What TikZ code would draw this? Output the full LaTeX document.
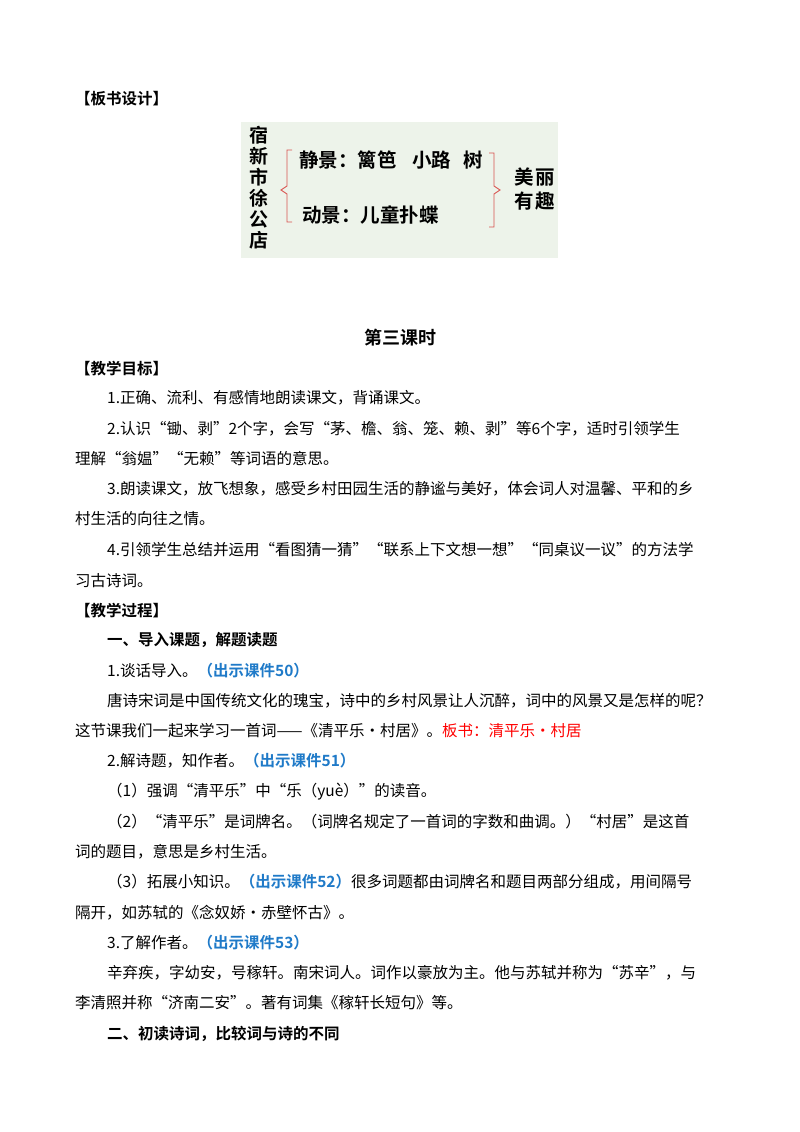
\documentclass[tikz,border=0pt]{standalone}
\usepackage{fontspec}
\setmainfont{Noto Sans CJK SC}
\newfontfamily\cjkb{Noto Sans CJK SC Bold}
\XeTeXlinebreaklocale "zh"
\XeTeXlinebreakskip=0pt plus 2pt
\definecolor{boardbg}{HTML}{EDF3EA}
\definecolor{braceRed}{HTML}{D9534F}
\definecolor{linkblue}{HTML}{1F7AC8}
\newcommand{\fullline}[2]{\makebox[#1pt][s]{#2}}
\newcommand{\kj}[1]{{\cjkb\color{linkblue}#1}}
\begin{document}
\begin{tikzpicture}[x=1pt,y=-1pt,
  body/.style={anchor=west, inner sep=0pt, font=\fontsize{15.5}{18}\selectfont},
  head/.style={body, font=\fontsize{15.5}{18}\selectfont\cjkb},
  board/.style={anchor=west, inner sep=0pt, font=\fontsize{19.5}{22}\selectfont\cjkb},
  brace/.style={braceRed, line width=0.9pt}]
  \useasboundingbox (0,0) rectangle (800,1132);

  % board design
  \node[head] (bsh) at (75,99) {【板书设计】};
  \fill[boardbg] (241,122) rectangle (558,258);
  \node[board, anchor=center, align=center, font=\fontsize{19}{21}\selectfont\cjkb] (title) at (259,188) {宿\\新\\市\\徐\\公\\店};
  \node[board] (still) at (299,160) {静景：篱笆\hspace{0.8em}小路\hspace{0.6em}树};
  \node[board] (move) at (302,215) {动景：儿童扑蝶};
  \draw[brace] (292,150) -- (287,150) -- (287,186) -- (281,190) -- (287,194) -- (287,222) -- (292,222);
  \draw[brace] (489,153) -- (494,153) -- (494,186) -- (500,190) -- (494,194) -- (494,227) -- (489,227);
  \node[board] (mei) at (514,177) {美\hspace{0.1em}丽};
  \node[board] (you) at (514,201) {有\hspace{0.1em}趣};

  % lesson three
  \node[anchor=center, inner sep=0pt, font=\fontsize{18}{20}\selectfont\cjkb] (lesson) at (400,338) {第三课时};
  \node[head] (goal) at (75,369) {【教学目标】};
  \node[body] (g1) at (107,398) {1.正确、流利、有感情地朗读课文，背诵课文。};
  \node[body] (g2) at (107,429) {\fullline{660}{2.认识“锄、剥”2个字，会写“茅、檐、翁、笼、赖、剥”等6个字，适时引领学生}};
  \node[body] (g2b) at (75,459) {理解“翁媪”“无赖”等词语的意思。};
  \node[body] (g3) at (107,489) {\fullline{663}{3.朗读课文，放飞想象，感受乡村田园生活的静谧与美好，体会词人对温馨、平和的乡}};
  \node[body] (g3b) at (75,519) {村生活的向往之情。};
  \node[body] (g4) at (107,550) {\fullline{660}{4.引领学生总结并运用“看图猜一猜”“联系上下文想一想”“同桌议一议”的方法学}};
  \node[body] (g4b) at (75,581) {习古诗词。};

  % process
  \node[head] (proc) at (75,611) {【教学过程】};
  \node[head] (s1) at (107,640) {一、导入课题，解题读题};
  \node[body] (p1) at (107,671) {1.谈话导入。\kj{（出示课件50）}};
  \node[body] (p1a) at (107,701) {\fullline{663}{唐诗宋词是中国传统文化的瑰宝，诗中的乡村风景让人沉醉，词中的风景又是怎样的呢？}};
  \node[body] (p1b) at (75,731) {这节课我们一起来学习一首词——《清平乐·村居》。\textcolor{red}{板书：清平乐·村居}};
  \node[body] (p2) at (107,761) {2.解诗题，知作者。\kj{（出示课件51）}};
  \node[body] (p2a) at (107,792) {（1）强调“清平乐”中“乐（yuè）”的读音。};
  \node[body] (p2b) at (107,822) {\fullline{663}{（2）“清平乐”是词牌名。（词牌名规定了一首词的字数和曲调。）“村居”是这首}};
  \node[body] (p2c) at (75,852) {词的题目，意思是乡村生活。};
  \node[body] (p2d) at (107,882) {\fullline{663}{（3）拓展小知识。\kj{（出示课件52）}很多词题都由词牌名和题目两部分组成，用间隔号}};
  \node[body] (p2e) at (75,913) {隔开，如苏轼的《念奴娇·赤壁怀古》。};
  \node[body] (p3) at (107,943) {3.了解作者。\kj{（出示课件53）}};
  \node[body] (p3a) at (107,973) {\fullline{663}{辛弃疾，字幼安，号稼轩。南宋词人。词作以豪放为主。他与苏轼并称为“苏辛”，与}};
  \node[body] (p3b) at (75,1003) {李清照并称“济南二安”。著有词集《稼轩长短句》等。};
  \node[head] (s2) at (107,1034) {二、初读诗词，比较词与诗的不同};
\end{tikzpicture}
\end{document}
